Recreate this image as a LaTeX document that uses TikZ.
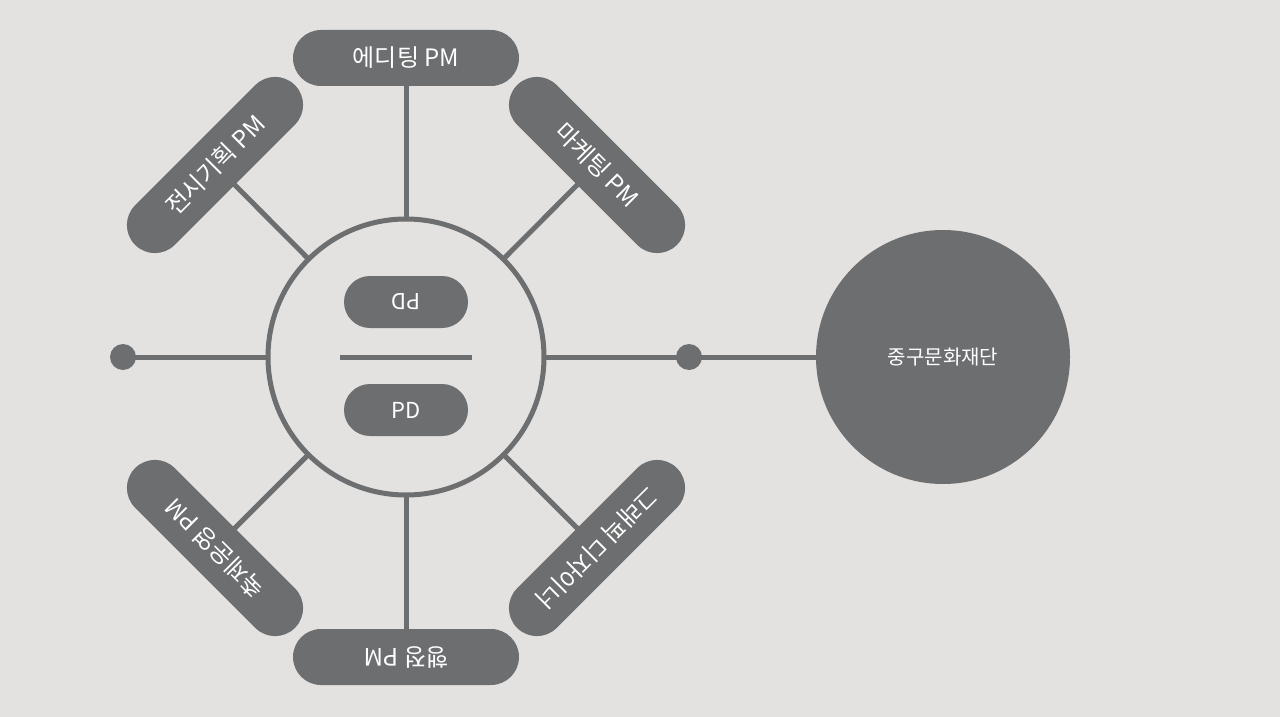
\documentclass[tikz,border=0pt]{standalone}
\usepackage{fontspec}
\setmainfont{Noto Sans CJK KR}
\definecolor{bgc}{HTML}{E3E2E1}
\definecolor{gr}{HTML}{6D6E70}
\begin{document}
\begin{tikzpicture}[x=1pt,y=-1pt,
  pill/.style={rounded corners=28pt,fill=gr,text=white,minimum width=226pt,minimum height=56pt,font=\fontsize{24}{24}\selectfont,inner sep=0pt},
  ipill/.style={rounded corners=26pt,fill=gr,text=white,minimum width=124pt,minimum height=52pt,font=\fontsize{22}{22}\selectfont,inner sep=0pt},
  ln/.style={draw=gr,line width=5pt}]
\fill[bgc] (0,0) rectangle (1280,717);
\useasboundingbox (0,0) rectangle (1280,717);
\coordinate (c) at (406,357);
\coordinate (t) at (406,58);
\coordinate (tl) at (215,165);
\coordinate (tr) at (597,165);
\coordinate (bl) at (215,548);
\coordinate (br) at (597,548);
\coordinate (b) at (406,657);
\coordinate (ld) at (123,357);
\coordinate (rd) at (689,357);
\coordinate (big) at (943,357);
\foreach \p in {t,tl,tr,bl,br,b,ld} \draw[ln] (c) -- (\p);
\draw[ln] (c) -- (big);
\node[circle,draw=gr,line width=5pt,fill=bgc,minimum size=276pt] (cc) at (c) {};
\draw[ln] (340,357) coordinate (d1) -- (472,357) coordinate (d2);
\node[ipill,rotate=180] (pd1) at (406,302) {PD};
\node[ipill] (pd2) at (406,410) {PD};
\node[pill] (nt) at (t) {에디팅 PM};
\node[pill,rotate=45] (ntl) at (tl) {전시기획 PM};
\node[pill,rotate=-45] (ntr) at (tr) {마케팅 PM};
\node[pill,rotate=135] (nbl) at (bl) {축제운영 PM};
\node[pill,rotate=-135] (nbr) at (br) {그래픽 디자이너};
\node[pill,rotate=180] (nb) at (b) {행정 PM};
\node[circle,fill=gr,minimum size=26pt] (dl) at (ld) {};
\node[circle,fill=gr,minimum size=26pt] (dr) at (rd) {};
\node[circle,fill=gr,minimum size=254pt,text=white,font=\fontsize{20}{20}\selectfont] (nbig) at (big) {중구문화재단};
\end{tikzpicture}
\end{document}
